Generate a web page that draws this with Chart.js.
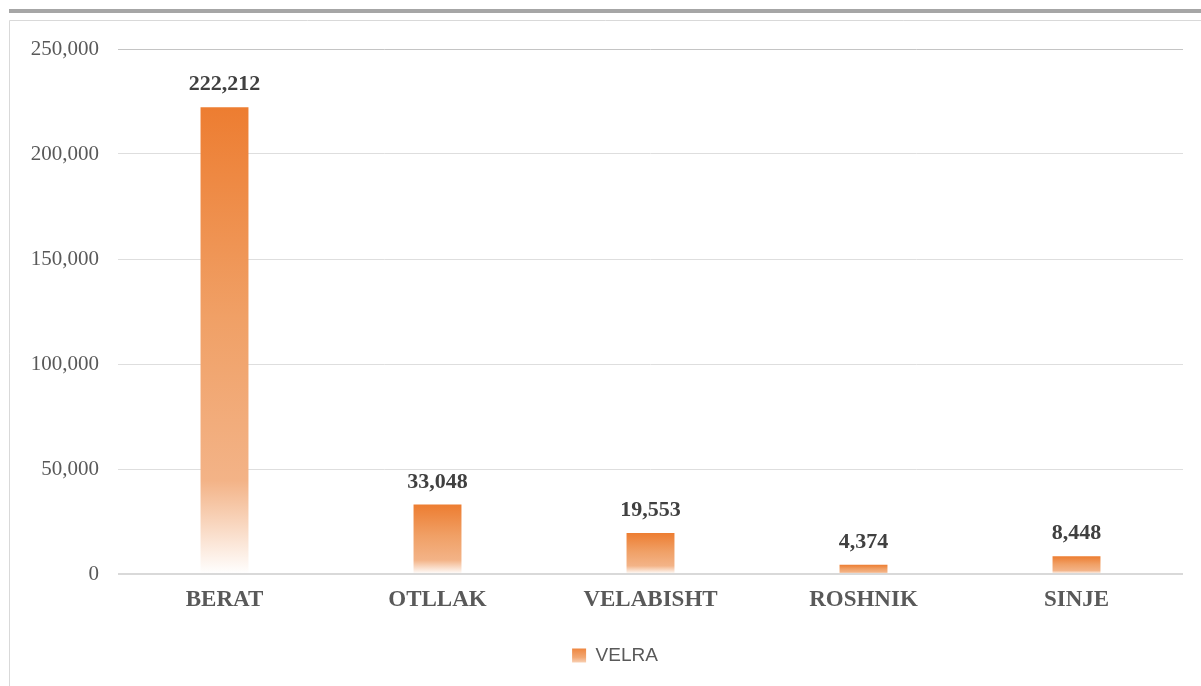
<!DOCTYPE html>
<html>
<head>
<meta charset="utf-8">
<script src="https://cdn.jsdelivr.net/npm/chart.js@4/dist/chart.umd.min.js"></script>
<style>
html,body{margin:0;padding:0;background:#fff;}
#wrap{position:relative;width:1201px;height:686px;}
</style>
</head>
<body>
<div id="wrap"><canvas id="c" width="1201" height="686"></canvas></div>
<script>
const categories = ['BERAT', 'OTLLAK', 'VELABISHT', 'ROSHNIK', 'SINJE'];
const velra = [222212, 33048, 19553, 4374, 8448];
const seriesName = 'VELRA';
const yMax = 250000;
const yStep = 50000;

const fmt = v => v.toLocaleString('en-US');

function barGradient(ctx, top, bottom) {
  const g = ctx.createLinearGradient(0, top, 0, bottom);
  g.addColorStop(0, '#ED7D31');
  g.addColorStop(0.45, '#F0A066');
  g.addColorStop(0.8, '#F3B387');
  g.addColorStop(1, '#FFFFFF');
  return g;
}

const framePlugin = {
  id: 'frame',
  beforeDraw(chart) {
    const c = chart.ctx;
    c.save();
    c.fillStyle = '#a6a6a6';
    c.fillRect(9, 9, chart.width - 9, 4);
    c.strokeStyle = '#d9d9d9';
    c.lineWidth = 1;
    c.beginPath();
    c.moveTo(chart.width, 20.5);
    c.lineTo(9.5, 20.5);
    c.lineTo(9.5, chart.height);
    c.stroke();
    c.restore();
    const lg = chart.legend;
    if (lg && lg.legendItems && lg.legendHitBoxes && lg.legendHitBoxes[0]) {
      const hb = lg.legendHitBoxes[0];
      const g = c.createLinearGradient(0, hb.top, 0, hb.top + hb.height);
      g.addColorStop(0, '#ED7D31');
      g.addColorStop(0.6, '#F2A874');
      g.addColorStop(1, '#FBE3D2');
      lg.legendItems[0].fillStyle = g;
    }
  }
};

// y tick labels drawn from the library's own y scale ticks (so they are not clipped)
const yLabels = {
  id: 'yLabels',
  afterDraw(chart) {
    const c = chart.ctx;
    const y = chart.scales.y;
    c.save();
    c.font = '21px "Liberation Serif"';
    c.fillStyle = '#595959';
    c.textAlign = 'right';
    c.textBaseline = 'middle';
    y.ticks.forEach(t => {
      c.fillText(fmt(t.value), y.right - 19, y.getPixelForValue(t.value));
    });
    c.restore();
  }
};

const valueLabels = {
  id: 'valueLabels',
  afterDatasetsDraw(chart) {
    const c = chart.ctx;
    const meta = chart.getDatasetMeta(0);
    c.save();
    c.font = 'bold 22px "Liberation Serif"';
    c.fillStyle = '#404040';
    c.textAlign = 'center';
    c.textBaseline = 'alphabetic';
    meta.data.forEach((bar, i) => {
      c.fillText(fmt(chart.data.datasets[0].data[i]), bar.x, bar.y - 17);
    });
    c.restore();
  }
};

new Chart(document.getElementById('c'), {
  type: 'bar',
  data: {
    labels: categories,
    datasets: [{
      label: seriesName,
      data: velra,
      backgroundColor: (context) => {
        const chart = context.chart;
        if (!chart.chartArea || context.dataIndex === undefined || context.type !== 'data') return '#ED7D31';
        const y = chart.scales.y;
        const v = context.raw;
        return barGradient(chart.ctx, y.getPixelForValue(v), y.getPixelForValue(0));
      },
      borderWidth: 0,
      categoryPercentage: 1,
      barPercentage: 0.225
    }]
  },
  options: {
    responsive: false,
    animation: false,
    layout: { padding: { left: 47, right: 18, top: 49, bottom: 11 } },
    plugins: {
      legend: {
        position: 'bottom',
        labels: {
          boxWidth: 14,
          boxHeight: 14,
          padding: 10,
          color: '#595959',
          font: { family: '"Liberation Sans"', size: 19 }
        }
      },
      tooltip: { enabled: false }
    },
    scales: {
      x: {
        grid: { display: false, drawTicks: false },
        border: { display: false },
        ticks: {
          color: '#595959',
          padding: 12,
          font: { family: '"Liberation Serif"', size: 23, weight: 'bold' }
        },
        afterFit(scale) { scale.height = 62; }
      },
      y: {
        min: 0,
        max: yMax,
        grid: {
          drawTicks: false,
          color: (ctx) => ctx.tick && ctx.tick.value === yMax ? '#c4c4c4' : (ctx.tick && ctx.tick.value === 0 ? '#d9d9d9' : '#dedede'),
          lineWidth: (ctx) => ctx.tick && ctx.tick.value === 0 ? 2 : 1
        },
        border: { display: false },
        ticks: {
          stepSize: yStep,
          display: false
        },
        afterFit(scale) { scale.width = 71; }
      }
    }
  },
  plugins: [framePlugin, yLabels, valueLabels]
});
</script>
</body>
</html>
